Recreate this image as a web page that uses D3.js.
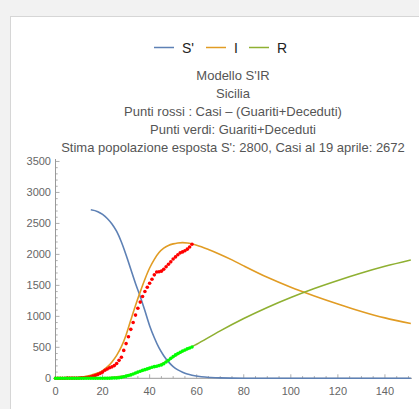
<!DOCTYPE html>
<html><head><meta charset="utf-8">
<script src="https://cdn.jsdelivr.net/npm/d3@7"></script>
<style>
body{margin:0;background:#f2f2f2;overflow:hidden;}
svg{display:block;font-family:"Liberation Sans",Arial,Helvetica,sans-serif;}
</style>
</head><body><svg id="c" width="419" height="409"></svg>
<script>
// ---- data ----
const titleLines = ["Modello S'IR", "Sicilia", "Punti rossi : Casi \u2013 (Guariti+Deceduti)", "Punti verdi: Guariti+Deceduti", "Stima popolazione esposta S': 2800, Casi al 19 aprile: 2672"];
const legendLabels = ["S'", "I", "R"];
const seriesColors = ["#5e81b5", "#e19c24", "#8fb032"];
const xTicks = [0, 20, 40, 60, 80, 100, 120, 140];
const yTicks = [0, 500, 1000, 1500, 2000, 2500, 3000, 3500];

const sTimes  = [15, 18, 20, 22, 24, 26, 28, 30, 32, 34, 36, 38, 40, 42, 44, 46, 48, 50, 52, 54, 56, 58, 62, 66, 70, 80, 100, 151];
const sValues = [2720, 2690, 2645, 2580, 2490, 2370, 2200, 1990, 1760, 1530, 1320, 1090, 850, 655, 490, 365, 265, 190, 135, 97, 68, 48, 24, 13, 7, 2, 0, 0];

const iTimes  = [0, 5, 10, 12, 15, 18, 20, 22, 24, 26, 28, 30, 32, 34, 36, 38, 40, 42, 44, 46, 48, 50, 52, 54, 56, 58, 60, 65, 70, 75, 80, 90, 100, 110, 120, 130, 140, 151];
const iValues = [0, 3, 14, 25, 50, 85, 125, 185, 265, 370, 510, 700, 940, 1175, 1395, 1600, 1780, 1920, 2030, 2100, 2145, 2170, 2185, 2190, 2183, 2168, 2148, 2080, 2000, 1912, 1815, 1630, 1470, 1330, 1200, 1080, 975, 885];

const rTimes  = [0, 10, 15, 20, 25, 30, 33, 36, 40, 44, 48, 52, 56, 58, 60, 70, 80, 90, 100, 110, 120, 130, 140, 151];
const rValues = [0, 1, 3, 9, 22, 45, 68, 108, 160, 215, 292, 385, 468, 508, 550, 766, 965, 1144, 1305, 1450, 1580, 1700, 1808, 1911];

const dataDays = d3.range(0, 59);
const redValues = [0, 0, 0, 0, 0, 3, 3, 3, 3, 3,
  5, 7, 9, 14, 18, 25, 35, 48, 63, 80,
  100, 130, 150, 170, 185, 205, 240, 290, 340, 450,
  560, 670, 790, 900, 1020, 1130, 1230, 1320, 1400, 1470,
  1535, 1600, 1670, 1715, 1720, 1730, 1760, 1800, 1840, 1880,
  1925, 1960, 1995, 2025, 2040, 2060, 2085, 2120, 2165];
const greenValues = [0, 0, 0, 0, 0, 0, 0, 0, 0, 0,
  0, 0, 0, 0, 0, 0, 0, 0, 0, 0,
  0, 0, 1, 2, 3, 4, 6, 10, 15, 25,
  35, 45, 55, 70, 85, 100, 115, 128, 140, 152,
  165, 178, 188, 195, 205, 215, 235, 262, 292, 322,
  350, 378, 400, 420, 440, 458, 475, 490, 505];

// ---- layout ----
const svg = d3.select("#c");
svg.append("rect").attr("x", 10.5).attr("y", 16.5).attr("width", 420).attr("height", 400)
  .attr("fill", "#fff").attr("stroke", "#d6d6d6");

const x = d3.scaleLinear().domain([0, 151.5]).range([55.5, 412]);
const y = d3.scaleLinear().domain([0, 3540]).range([378.3, 159]);

// titles
const tg = svg.append("g").attr("fill", "#555").attr("font-size", 13).attr("text-anchor", "middle");
titleLines.forEach((t, i) => {
  tg.append("text").attr("x", 233).attr("y", 80 + i * 18).text(t);
});

// legend
const legX = [154, 206, 249];
const lg = svg.append("g");
legendLabels.forEach((lab, i) => {
  lg.append("line").attr("x1", legX[i]).attr("x2", legX[i] + 20).attr("y1", 47.5).attr("y2", 47.5)
    .attr("stroke", seriesColors[i]).attr("stroke-width", 1.5);
  lg.append("text").attr("x", legX[i] + 28).attr("y", 52.5).attr("font-size", 14).attr("fill", "#222").text(lab);
});

// axes
const axisCol = "#9a9a9a";
const ag = svg.append("g");
ag.append("line").attr("x1", x(0)).attr("x2", x(151.5)).attr("y1", y(0)).attr("y2", y(0)).attr("stroke", axisCol);
ag.append("line").attr("x1", x(0)).attr("x2", x(0)).attr("y1", y(0)).attr("y2", y(3540)).attr("stroke", axisCol);
d3.range(0, 151, 5).forEach(v => {
  const major = v % 20 === 0;
  ag.append("line").attr("x1", x(v)).attr("x2", x(v)).attr("y1", y(0)).attr("y2", y(0) - (major ? 4 : 2.2))
    .attr("stroke", axisCol).attr("stroke-width", 0.8);
});
ag.selectAll("text.xt").data(xTicks).join("text").attr("class", "xt")
  .attr("x", d => x(d)).attr("y", 395).attr("text-anchor", "middle")
  .attr("font-size", 11).attr("fill", "#666").text(d => d);
d3.range(0, 3501, 100).forEach(v => {
  const major = v % 500 === 0;
  ag.append("line").attr("x1", x(0)).attr("x2", x(0) + (major ? 4 : 2.2)).attr("y1", y(v)).attr("y2", y(v))
    .attr("stroke", axisCol).attr("stroke-width", 0.8);
});
ag.selectAll("text.yt").data(yTicks).join("text").attr("class", "yt")
  .attr("x", 51).attr("y", d => y(d) + 4).attr("text-anchor", "end")
  .attr("font-size", 11).attr("fill", "#666").text(d => d);

// curves
const line = d3.line().x(d => x(d[0])).y(d => y(d[1])).curve(d3.curveMonotoneX);
const pg = svg.append("g");
[[sTimes, sValues], [iTimes, iValues], [rTimes, rValues]].forEach((s, i) => {
  pg.append("path").attr("d", line(s[0].map((t, k) => [t, s[1][k]])))
    .attr("fill", "none").attr("stroke", seriesColors[i]).attr("stroke-width", 1.6);
});

// dots
pg.selectAll("circle.r").data(dataDays).join("circle").attr("class", "r")
  .attr("cx", d => x(d)).attr("cy", (d, i) => y(redValues[i])).attr("r", 1.8).attr("fill", "#ff0000");
pg.selectAll("circle.g").data(dataDays).join("circle").attr("class", "g")
  .attr("cx", d => x(d)).attr("cy", (d, i) => y(greenValues[i])).attr("r", 1.8).attr("fill", "#00ff00");
</script>
</body></html>
